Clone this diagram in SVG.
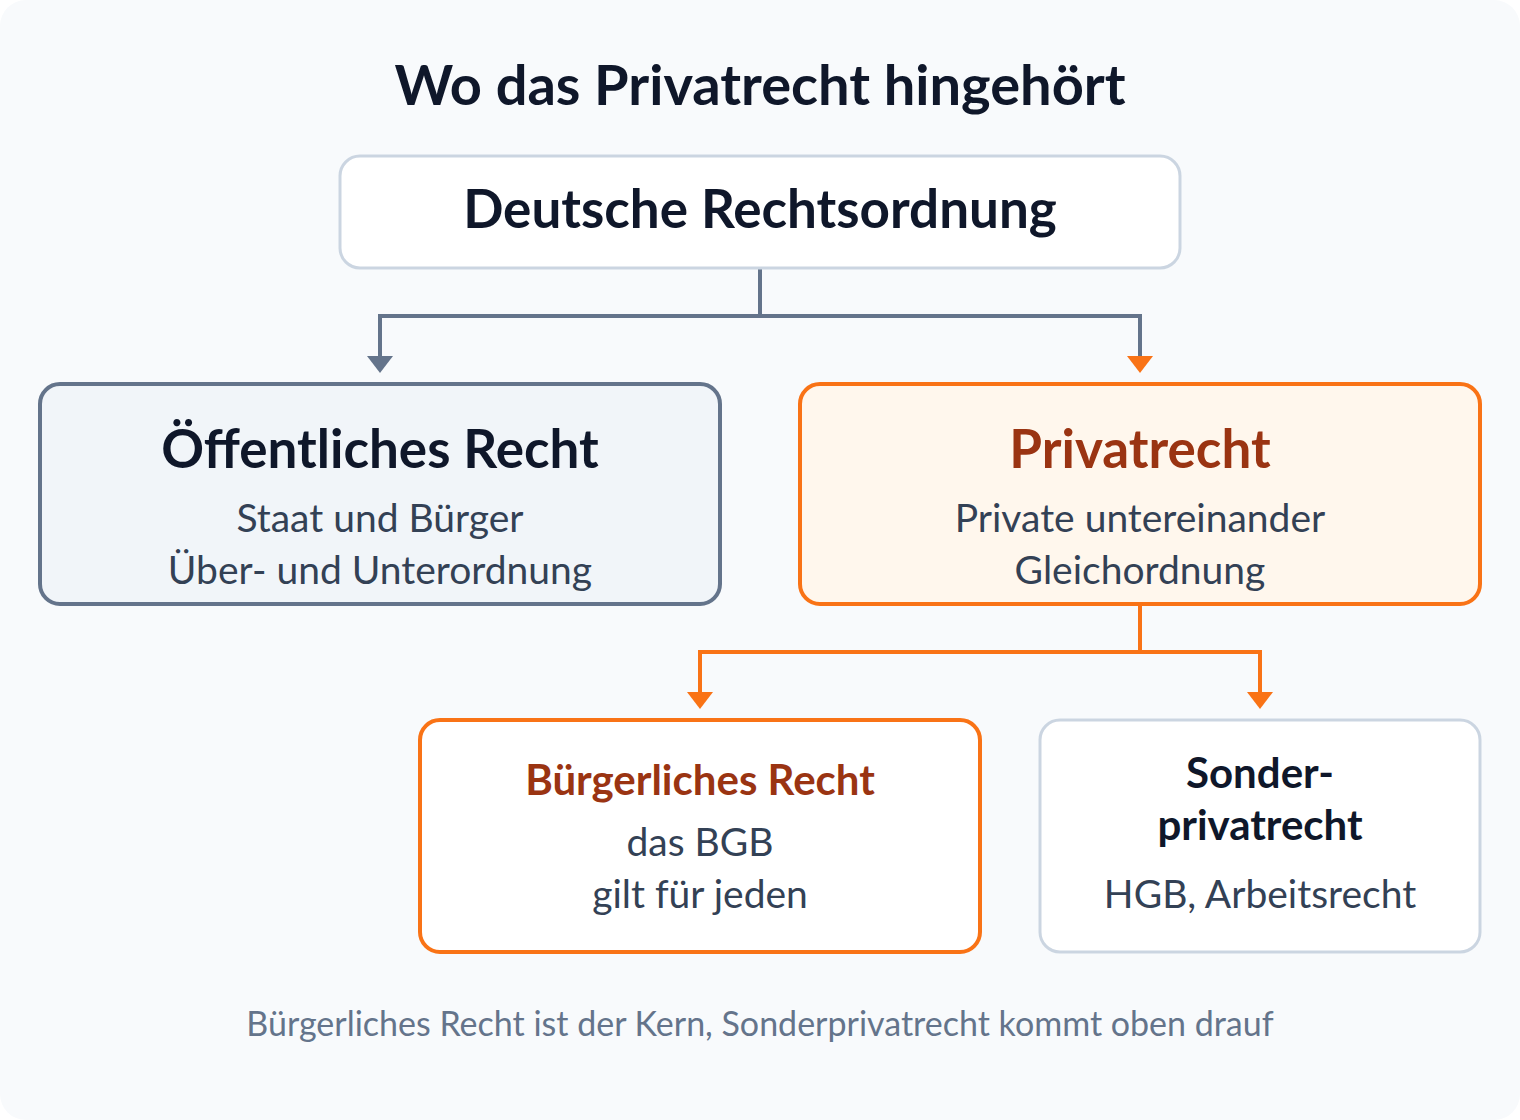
<svg xmlns="http://www.w3.org/2000/svg" width="1520" height="1120" viewBox="0 0 1520 1120">
<defs>
<marker id="ahSlate" markerWidth="26" markerHeight="17" refX="13" refY="0" markerUnits="userSpaceOnUse" viewBox="0 0 26 17">
<path d="M0,0 L26,0 L13,17 Z" fill="#64748b"/>
</marker>
<marker id="ahOrange" markerWidth="26" markerHeight="17" refX="13" refY="0" markerUnits="userSpaceOnUse" viewBox="0 0 26 17">
<path d="M0,0 L26,0 L13,17 Z" fill="#f97316"/>
</marker>
</defs>
<style>
text{font-family:Lato,"Liberation Sans",sans-serif;text-anchor:middle}
.title{font-size:56px;font-weight:700;fill:#0f172a}
.h1{font-size:53px;font-weight:700;fill:#0f172a}
.h1o{font-size:53px;font-weight:700;fill:#9a3412}
.h2{font-size:42px;font-weight:700;fill:#0f172a}
.h2o{font-size:42px;font-weight:700;fill:#9a3412}
.sub{font-size:39px;fill:#334155}
.foot{font-size:34px;fill:#64748b}
.conn{fill:none;stroke-width:4}
</style>
<rect x="0" y="0" width="1520" height="1120" rx="26" fill="#f8fafc"/>
<text class="title" x="760" y="105">Wo das Privatrecht hingehört</text>
<g id="connectors">
<path class="conn" stroke="#64748b" d="M760,268 V316 H380 V356" marker-end="url(#ahSlate)"/>
<path class="conn" stroke="#64748b" d="M760,316 H1140 V356" marker-end="url(#ahOrange)"/>
<path class="conn" stroke="#f97316" d="M1140,604 V652 H700 V692" marker-end="url(#ahOrange)"/>
<path class="conn" stroke="#f97316" d="M1140,652 H1260 V692" marker-end="url(#ahOrange)"/>
</g>
<g id="node-rechtsordnung">
<rect x="340" y="156" width="840" height="112" rx="20" fill="#ffffff" stroke="#cbd5e1" stroke-width="3"/>
<text class="h1" x="760" y="228">Deutsche Rechtsordnung</text>
</g>
<g id="node-oeffentlich">
<rect x="40" y="384" width="680" height="220" rx="20" fill="#f1f5f9" stroke="#64748b" stroke-width="4"/>
<text class="h1" x="380" y="468">Öffentliches Recht</text>
<text class="sub" x="380" y="532">Staat und Bürger</text>
<text class="sub" x="380" y="584">Über- und Unterordnung</text>
</g>
<g id="node-privatrecht">
<rect x="800" y="384" width="680" height="220" rx="20" fill="#fff7ed" stroke="#f97316" stroke-width="4"/>
<text class="h1o" x="1140" y="468">Privatrecht</text>
<text class="sub" x="1140" y="532">Private untereinander</text>
<text class="sub" x="1140" y="584">Gleichordnung</text>
</g>
<g id="node-buergerlich">
<rect x="420" y="720" width="560" height="232" rx="20" fill="#ffffff" stroke="#f97316" stroke-width="4"/>
<text class="h2o" x="700" y="795">Bürgerliches Recht</text>
<text class="sub" x="700" y="856">das BGB</text>
<text class="sub" x="700" y="908">gilt für jeden</text>
</g>
<g id="node-sonder">
<rect x="1040" y="720" width="440" height="232" rx="20" fill="#ffffff" stroke="#cbd5e1" stroke-width="3"/>
<text class="h2" x="1260" y="788">Sonder-</text>
<text class="h2" x="1260" y="840">privatrecht</text>
<text class="sub" x="1260" y="908">HGB, Arbeitsrecht</text>
</g>
<text class="foot" x="760" y="1036">Bürgerliches Recht ist der Kern, Sonderprivatrecht kommt oben drauf</text>
</svg>
